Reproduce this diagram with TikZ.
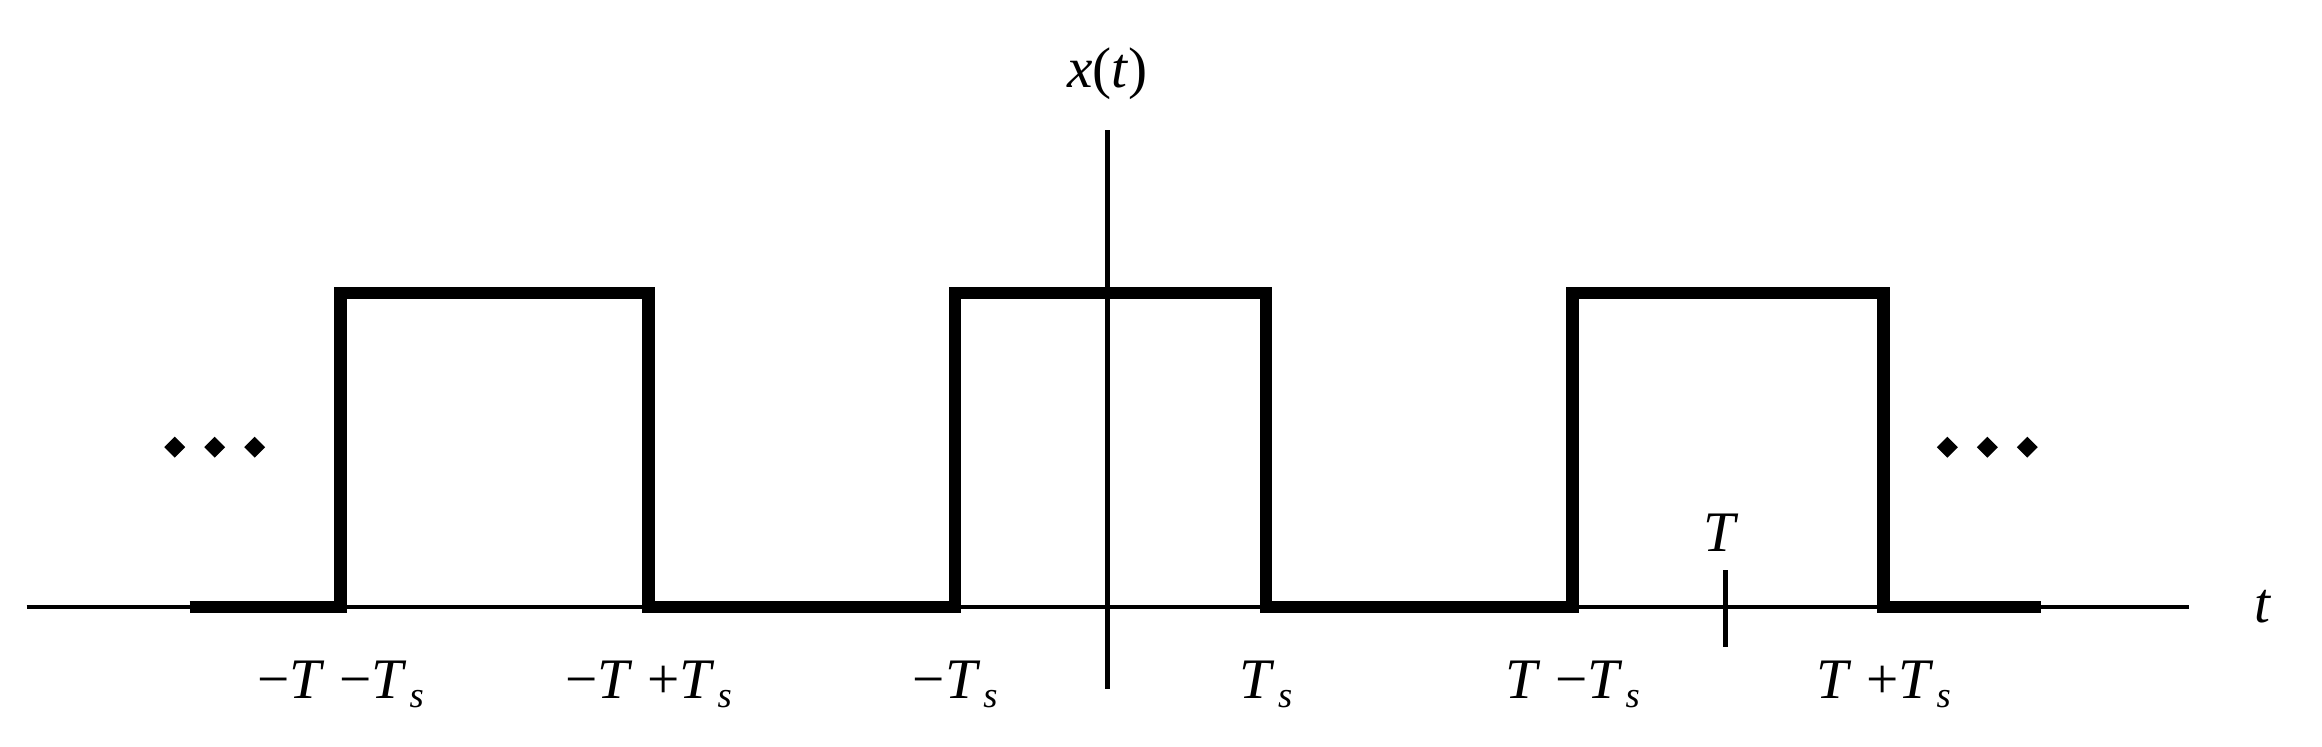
\documentclass[tikz,border=0pt]{standalone}
\usepackage{fontspec}
\setmainfont{Liberation Serif}
\newcommand{\Ts}{\textit{T}\kern0.05em\raisebox{-0.35ex}{\scriptsize\textit{s}}}
\begin{document}
\begin{tikzpicture}[x=0.01cm,y=-0.01cm,
  axis/.style={line width=0.9pt},
  sig/.style={line width=2.4pt},
  lab/.style={font=\fontsize{11}{12}\selectfont, inner sep=0pt}]
\useasboundingbox (0,0) rectangle (1568,504);
\coordinate (xl) at (18,410); \coordinate (xr) at (1478,410);
\coordinate (yt) at (748,88); \coordinate (yb) at (748,465);
\draw[axis] (xl) -- (xr);
\draw[axis] (yb) -- (yt);
\coordinate (tk1) at (1165,385); \coordinate (tk2) at (1165,437);
\draw[axis] (tk1) -- (tk2);
\draw[sig] (128,410) -- (230,410) -- (230,198) -- (438,198) -- (438,410) -- (645,410) -- (645,198) -- (855,198) -- (855,410) -- (1062,410) -- (1062,198) -- (1272,198) -- (1272,410) -- (1378,410);
\foreach \x in {118,145,172,1315,1342,1369}
  \fill[rotate around={45:(\x,302)}] (\x-5,297) rectangle (\x+5,307);
\node[lab] (xt) at (748,50) {\textit{x}(\textit{t})};
\node[lab] (tt) at (1528,410) {\textit{t}};
\node[lab] (tT) at (1162,360) {\textit{T}};
\node[lab] (l1) at (230,462) {−\textit{T} −\Ts};
\node[lab] (l2) at (438,462) {−\textit{T} +\Ts};
\node[lab] (l3) at (645,462) {−\Ts};
\node[lab] (l4) at (855,462) {\Ts};
\node[lab] (l5) at (1062,462) {\textit{T} −\Ts};
\node[lab] (l6) at (1272,462) {\textit{T} +\Ts};
\end{tikzpicture}
\end{document}
